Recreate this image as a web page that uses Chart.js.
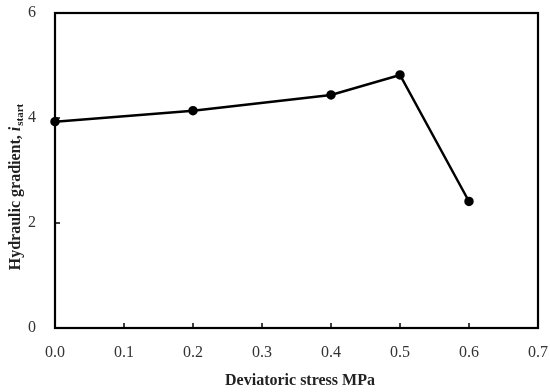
<!DOCTYPE html>
<html>
<head>
<meta charset="utf-8">
<script src="https://cdn.jsdelivr.net/npm/chart.js@4/dist/chart.umd.min.js"></script>
<style>
html,body{margin:0;padding:0;background:#fff;}
#wrap{width:550px;height:392px;}
</style>
</head>
<body>
<div id="wrap"><canvas id="c" width="550" height="392"></canvas></div>
<script>
const stress = [0.0, 0.2, 0.4, 0.5, 0.6];
const gradient = [3.93, 4.14, 4.44, 4.82, 2.41];
const xTicks = [0.0, 0.1, 0.2, 0.3, 0.4, 0.5, 0.6, 0.7];
const yTicks = [0, 2, 4, 6];
const xTitle = "Deviatoric stress MPa";
const yTitleMain = "Hydraulic gradient, ";
const yTitleVar = "i";
const yTitleSub = "start";

const SERIF = "'Liberation Serif','DejaVu Serif',serif";

const framePlugin = {
  id: 'frame',
  afterDatasetsDraw(chart) {
    const ctx = chart.ctx, a = chart.chartArea;
    const xs = chart.scales.x, ys = chart.scales.y;
    ctx.save();
    ctx.strokeStyle = '#000';
    ctx.lineWidth = 2.2;
    ctx.strokeRect(a.left, a.top, a.right - a.left, a.bottom - a.top);
    ctx.lineWidth = 1.5;
    ctx.beginPath();
    xTicks.forEach(v => {
      const px = xs.getPixelForValue(v);
      ctx.moveTo(px, a.bottom); ctx.lineTo(px, a.bottom - 5);
    });
    yTicks.forEach(v => {
      const py = ys.getPixelForValue(v);
      ctx.moveTo(a.left, py); ctx.lineTo(a.left + 5, py);
    });
    ctx.stroke();
    // x title
    ctx.fillStyle = '#222';
    ctx.font = "bold 16px " + SERIF;
    ctx.textAlign = 'center';
    ctx.textBaseline = 'middle';
    ctx.fillText(xTitle, 300, 381);
    // y title (rotated, with italic i and subscript)
    ctx.translate(14, 187);
    ctx.rotate(-Math.PI / 2);
    const fMain = "bold 16px " + SERIF;
    const fVar = "bold italic 16px " + SERIF;
    const fSub = "bold 11px " + SERIF;
    ctx.font = fMain; const w1 = ctx.measureText(yTitleMain).width;
    ctx.font = fVar; const w2 = ctx.measureText(yTitleVar).width;
    ctx.font = fSub; const w3 = ctx.measureText(yTitleSub).width;
    let x0 = -(w1 + w2 + w3 + 1) / 2;
    ctx.textAlign = 'left';
    ctx.textBaseline = 'alphabetic';
    ctx.font = fMain; ctx.fillText(yTitleMain, x0, 6);
    ctx.font = fVar; ctx.fillText(yTitleVar, x0 + w1, 6);
    ctx.font = fSub; ctx.fillText(yTitleSub, x0 + w1 + w2 + 1, 9);
    ctx.restore();
  }
};

new Chart(document.getElementById('c'), {
  type: 'scatter',
  data: {
    datasets: [{
      data: stress.map((x, i) => ({x: x, y: gradient[i]})),
      showLine: true,
      borderColor: '#000',
      backgroundColor: '#000',
      borderWidth: 2.5,
      pointRadius: 3.5,
      pointHoverRadius: 3.5,
      tension: 0,
      clip: false
    }]
  },
  options: {
    responsive: false,
    animation: false,
    events: [],
    layout: {padding: {top: 13, right: 12, left: 0, bottom: 0}},
    plugins: {legend: {display: false}, tooltip: {enabled: false}},
    scales: {
      x: {
        type: 'linear', min: 0, max: 0.7,
        afterBuildTicks: s => { s.ticks = xTicks.map(v => ({value: v})); },
        afterFit: s => { s.height = 64; s.paddingLeft = 0; s.paddingRight = 0; },
        grid: {display: false, drawTicks: false},
        border: {display: false},
        ticks: {
          padding: 15,
          color: '#333',
          font: {family: SERIF, size: 16},
          maxRotation: 0,
          callback: v => Number(v).toFixed(1)
        }
      },
      y: {
        type: 'linear', min: 0, max: 6,
        afterBuildTicks: s => { s.ticks = yTicks.map(v => ({value: v})); },
        afterFit: s => { s.width = 55; s.paddingTop = 0; s.paddingBottom = 0; },
        grid: {display: false, drawTicks: false},
        border: {display: false},
        ticks: {
          padding: 19,
          color: '#333',
          font: {family: SERIF, size: 16},
          callback: v => String(v)
        }
      }
    }
  },
  plugins: [framePlugin]
});
</script>
</body>
</html>
